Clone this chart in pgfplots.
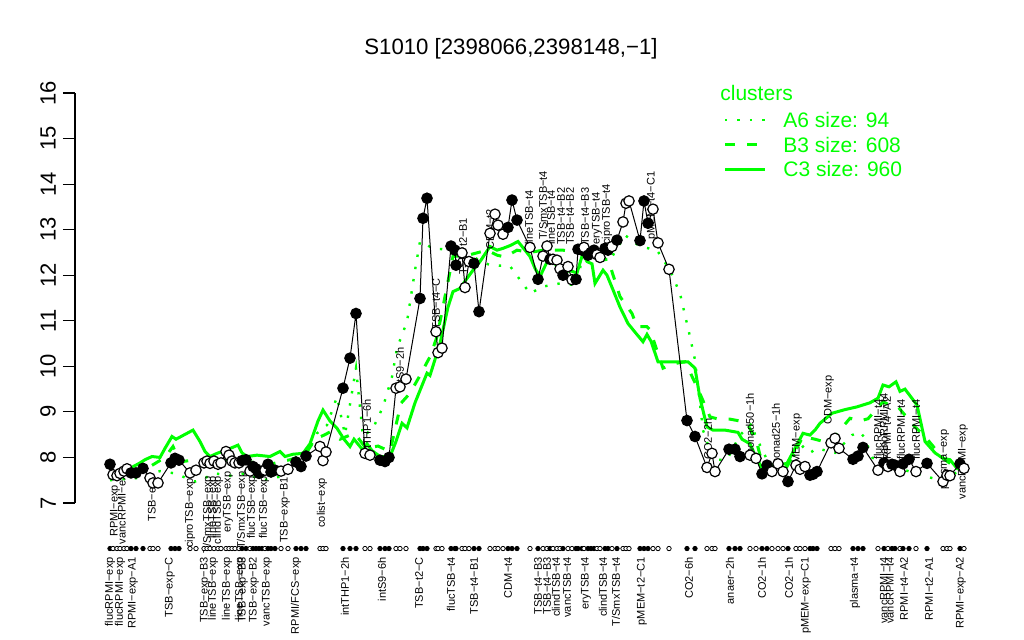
\documentclass[border=0pt]{standalone}
\usepackage{pgfplots}
\pgfplotsset{compat=1.18}
\usepackage{pgfplotstable}
\usepackage{fontspec}
\setmainfont{Liberation Sans}
\definecolor{rgreen}{RGB}{0,255,0}
\pgfplotstableread{
x y c
110 7.85 f
113 7.62 o
117 7.60 o
120 7.65 o
124 7.70 o
127 7.75 o
131 7.66 f
136 7.66 f
143 7.76 f
150 7.55 o
153 7.44 o
158 7.44 o
171 7.88 f
175 7.98 f
179 7.94 f
190 7.66 o
196 7.72 o
204 7.88 o
207 7.92 o
210 7.87 o
214 7.92 o
218 7.85 o
221 7.88 o
226 8.13 o
229 8.05 o
232 7.92 o
235 7.88 o
239 7.88 o
242 7.93 f
246 7.95 f
250 7.70 o
253 7.80 f
256 7.75 f
259 7.65 f
262 7.70 f
265 7.72 o
268 7.85 f
271 7.68 f
275 7.72 f
281 7.70 o
288 7.74 o
296 7.90 f
301 7.80 f
306 8.03 f
320 8.24 o
323 7.93 o
326 8.12 o
343 9.52 f
350 10.18 f
356 11.16 f
365 8.09 o
370 8.05 o
380 7.94 f
385 7.91 f
389 8.00 f
396 9.52 o
400 9.55 o
406 9.72 o
420 11.49 f
423 13.25 f
427 13.69 f
436 10.76 o
438 10.30 o
442 10.40 o
451 12.64 f
455 12.55 f
456 12.22 f
462 12.49 o
465 11.73 o
469 12.30 o
474 12.26 f
479 11.20 f
490 12.92 o
495 13.34 o
498 13.10 o
503 12.90 o
508 13.05 f
512 13.65 f
517 13.21 f
530 12.61 o
538 11.91 f
543 12.42 o
547 12.64 o
550 12.35 f
553 12.35 o
557 12.33 o
560 12.14 o
563 12.00 f
568 12.19 o
572 11.90 o
576 11.91 f
578 12.57 f
582 12.55 f
584 12.61 o
588 12.44 f
591 12.50 f
594 12.55 f
597 12.45 o
600 12.39 o
605 12.59 f
608 12.55 f
612 12.63 o
617 12.77 f
623 13.17 o
626 13.58 o
629 13.63 o
640 12.76 f
644 13.63 f
648 13.14 f
653 13.45 o
658 12.71 o
669 12.13 o
687 8.81 f
695 8.46 f
707 7.78 o
712 8.09 o
715 7.69 o
729 8.18 f
735 8.18 f
740 8.02 f
750 8.05 o
756 7.98 o
762 7.64 f
767 7.83 f
772 7.69 o
778 7.86 o
783 7.69 o
788 7.47 f
796 7.83 o
800 7.74 o
805 7.80 o
810 7.61 f
813 7.63 f
817 7.69 f
831 8.32 o
835 8.42 o
839 8.20 o
853 7.96 f
858 8.03 f
863 8.22 f
878 7.72 o
884 7.88 f
888 7.80 o
892 7.85 f
895 7.83 f
900 7.69 o
903 7.86 f
909 7.96 f
916 7.69 o
927 7.87 f
943 7.47 o
947 7.61 o
950 7.60 o
960 7.86 f
964 7.76 o
}\pts
\pgfplotstableread{
x y
110 7.60
125 7.70
140 7.88
145 7.95
152 8.02
160 8.00
165 8.20
172 8.46
176 8.40
193 8.60
200 8.35
205 8.13
210 8.02
217 8.09
225 8.15
238 8.27
242 8.10
247 8.02
257 8.05
270 8.02
280 8.13
285 8.02
293 8.07
303 8.09
310 8.30
318 8.80
323 9.04
330 8.80
337 8.64
344 8.40
350 8.24
354 8.40
363 8.16
367 8.30
372 8.15
380 8.02
390 8.02
396 8.35
402 8.75
407 8.65
415 9.20
427 9.85
430 9.80
440 10.50
448 11.30
453 11.64
460 11.71
466 11.90
473 12.11
480 12.30
490 12.63
497 12.55
503 12.59
510 12.65
518 12.74
525 12.55
530 12.41
535 12.15
540 11.97
545 12.20
548 12.33
553 12.35
560 12.04
570 12.10
577 12.05
583 12.49
587 12.30
592 12.25
595 11.82
600 12.00
603 12.11
607 12.00
613 11.68
620 11.30
628 10.94
635 10.75
643 10.54
647 10.70
651 10.55
658 10.10
670 10.10
688 10.10
695 9.96
700 9.30
707 8.67
713 8.60
725 8.60
738 8.55
742 8.40
750 8.30
755 8.05
762 7.76
770 7.80
787 7.87
795 8.20
803 8.53
810 8.49
815 8.60
820 8.75
832 8.97
845 9.05
857 9.11
870 9.20
878 9.30
883 9.59
889 9.55
896 9.66
900 9.45
905 9.50
917 9.15
925 8.35
935 8.10
943 7.98
950 7.95
957 7.76
964 7.70
}\cthree
\pgfplotstableread{
x y
110 7.55
130 7.65
150 7.80
165 8.00
173 8.24
180 7.90
195 7.95
210 7.90
230 7.95
250 7.90
270 7.85
290 7.95
305 8.05
315 8.40
325 8.50
330 8.56
340 8.40
350 8.49
355 8.52
366 8.20
378 8.25
390 8.13
401 9.19
410 9.41
420 9.80
430 10.21
437 10.65
445 11.53
453 12.41
470 12.45
487 12.55
497 12.44
505 12.40
517 12.55
530 12.50
543 12.55
563 12.55
583 12.48
600 12.33
608 12.35
620 11.53
632 11.16
637 10.87
647 10.87
650 10.80
663 9.96
672 10.05
685 10.10
697 9.55
710 8.89
717 8.85
730 8.84
740 8.80
747 8.75
752 8.55
757 8.31
763 7.80
776 7.85
787 7.80
803 8.46
815 8.40
830 8.31
840 8.60
850 8.86
860 8.80
868 8.85
883 9.22
890 9.15
898 9.11
915 8.67
925 8.46
943 7.98
957 7.76
}\bthree
\pgfplotstableread{
x y
110 7.50
140 7.55
160 7.70
175 7.65
195 7.47
205 7.55
215 7.65
230 7.60
245 7.65
263 7.50
285 7.60
303 7.90
317 8.53
327 8.71
337 9.33
345 8.50
356 9.96
363 8.46
373 8.64
383 9.11
392 9.77
397 10.40
407 10.98
415 12.11
420 12.74
433 12.59
453 12.55
473 12.40
490 12.22
510 12.20
530 11.60
543 11.75
560 11.82
577 11.78
583 12.50
600 12.40
610 12.33
625 12.88
640 12.63
657 12.55
670 12.11
680 11.60
690 10.65
695 10.14
698 9.55
703 8.60
713 7.95
727 7.95
740 8.49
752 8.75
755 8.50
767 7.95
783 7.80
803 8.24
810 8.10
817 8.20
835 8.10
852 8.49
860 8.56
865 8.42
872 8.00
882 7.87
900 7.75
923 7.61
933 7.54
950 7.60
960 7.70
}\asix
\newcommand\lab{\fontsize{5.5}{6.5}\selectfont}
\begin{document}
\begin{tikzpicture}
\path[use as bounding box] (-37.5pt,-68.5pt) rectangle (474.5pt,251.5pt);
\begin{axis}[
  scale only axis, width=450pt, height=205pt,
  xmin=75, xmax=975, ymin=7, ymax=16,
  axis x line=none, axis y line*=left,
  ytick={7,...,16}, tick align=outside, major tick length=6pt,
  /pgf/number format/assume math mode=true,
  yticklabel style={rotate=90, anchor=south, font=\fontsize{11}{13}\selectfont},
  axis line style={line width=0.6pt}, tick style={line width=0.6pt, black},
  clip=false,
]
\addplot[rgreen, line width=1.2pt, dash pattern=on 1.2pt off 5pt] table[x=x,y=y]{\asix};
\addplot[rgreen, line width=1.5pt, dash pattern=on 5pt off 6pt] table[x=x,y=y]{\bthree};
\addplot[rgreen, line width=1.5pt] table[x=x,y=y]{\cthree};
\addplot[black, line width=0.5pt, no markers] table[x=x,y=y]{\pts};
\addplot[scatter, only marks, scatter src=explicit symbolic, mark size=2.6pt, line width=0.6pt,
  scatter/classes={f={mark=*,draw=black,fill=black}, o={mark=*,draw=black,fill=white}}]
  table[x=x,y=y,meta=c]{\pts};
\addplot[scatter, only marks, scatter src=explicit symbolic, mark size=1.1pt, line width=0.4pt,
  scatter/classes={f={mark=*,draw=black,fill=black}, o={mark=*,draw=black,fill=white}}]
  table[x=x,y expr=6,meta=c]{\pts};
% title
\node[font=\fontsize{11.1}{13}\selectfont] at (axis cs:511,16.98) {S1010 [2398066,2398148,−1]};
% legend
\node[anchor=west, text=rgreen, font=\fontsize{10.5}{12}\selectfont, inner sep=0pt] at (axis cs:720,16.0) {clusters};
\draw[rgreen, line width=1.2pt, dash pattern=on 1.2pt off 5pt] (axis cs:725,15.41) -- (axis cs:765,15.41);
\draw[rgreen, line width=1.5pt, dash pattern=on 5pt off 6pt] (axis cs:725,14.86) -- (axis cs:765,14.86);
\draw[rgreen, line width=1.5pt] (axis cs:725,14.33) -- (axis cs:765,14.33);
\node[anchor=west, text=rgreen, font=\fontsize{10.5}{12}\selectfont, inner sep=0pt] at (axis cs:783,15.41) {A6 size: 94};
\node[anchor=west, text=rgreen, font=\fontsize{10.5}{12}\selectfont, inner sep=0pt] at (axis cs:783,14.86) {B3 size: 608};
\node[anchor=west, text=rgreen, font=\fontsize{10.5}{12}\selectfont, inner sep=0pt] at (axis cs:783,14.33) {C3 size: 960};
% bottom labels
\foreach \xx/\lb in {110/flucRPMI−exp, 120/flucRPMI−exp, 133/RPMI−exp−A1, 170/TSB−exp−C, 205/TSB−exp−B3, 213/lineTSB−exp, 227/lineTSB−exp, 240/lineTSB−exp, 243/TSB−exp−B3, 254/TSB−exp−B2, 267/vancTSB−exp, 296/{RPMI/FCS−exp}, 345/intTHP1−2h, 382/intS9−6h, 419/TSB−t2−C, 451/flucTSB−t4, 474/TSB−t4−B1, 508/CDM−t4, 538/TSB−t4−B3, 547/TSB−t4−B3, 556/clindTSB−t4, 567/vancTSB−t4, 586/eryTSB−t4, 603/clindTSB−t4, 616/{T/SmxTSB−t4}, 642/pMEM−t2−C1, 689/CO2−6h, 730/anaer−2h, 762/CO2−1h, 789/CO2−1h, 806/pMEM−exp−C1, 855/plasma−t4, 884/vancRPMI−t4, 890/vancRPMI−t4, 904/RPMI−t4−A2, 929/RPMI−t2−A1, 961/RPMI−exp−A2}
  {\edef\tmp{\noexpand\node[rotate=90, anchor=east, inner sep=0pt, font=\noexpand\lab] at (axis cs:\xx,5.815) {\lb};}\tmp}
% labels below low points
\foreach \xx/\yy/\lb in {115/7.4/RPMI−exp, 123/7.75/vancRPMI−exp, 153/7.6/TSB−exp, 190/7.55/ciproTSB−exp, 208/7.6/{T/SmxTSB−exp}, 213/7.6/lineTSB−exp, 218/7.6/clindTSB−exp, 228/7.7/eryTSB−exp, 242/7.7/{T/SmxTSB−exp}, 252/7.6/flucTSB−exp, 264/7.6/flucTSB−exp, 285/7.57/TSB−exp−B1, 322/7.55/colist−exp}
  {\edef\tmp{\noexpand\node[rotate=90, anchor=east, inner sep=0pt, font=\noexpand\lab] at (axis cs:\xx,\yy) {\lb};}\tmp}
% labels above points
\foreach \xx/\yy/\lb in {367/7.99/intTHP1−6h, 400/9.44/intS9−2h, 436/10.8/TSB−t4−C, 463/12.0/TSB−t2−B1, 490/12.55/CDM−t2, 529/12.66/lineTSB−t4, 543/12.77/{T/SmxTSB−t4}, 551/12.66/lineTSB−t4, 561/12.66/TSB−t4−B2, 570/12.66/TSB−t4−B2, 585/12.66/TSB−t4−B3, 597/12.66/eryTSB−t4, 607/12.66/ciproTSB−t4, 652/12.77/pMEM−t4−C1, 708/7.94/CO2−2h, 750/8.05/nonad50−1h, 776/7.83/nonad25−1h, 797/7.72/pMEM−exp, 829/8.71/CDM−exp, 878/7.94/flucRPMI−t4, 884/7.94/vancRPMI−t4, 887/7.94/RPMI−t4−A2, 901/7.94/flucRPMI−t4, 916/7.94/flucRPMI−t4, 944/7.29/plasma−exp, 963/7.07/vancRPMI−exp}
  {\edef\tmp{\noexpand\node[rotate=90, anchor=west, inner sep=0pt, font=\noexpand\lab] at (axis cs:\xx,\yy) {\lb};}\tmp}
\end{axis}
\end{tikzpicture}
\end{document}
